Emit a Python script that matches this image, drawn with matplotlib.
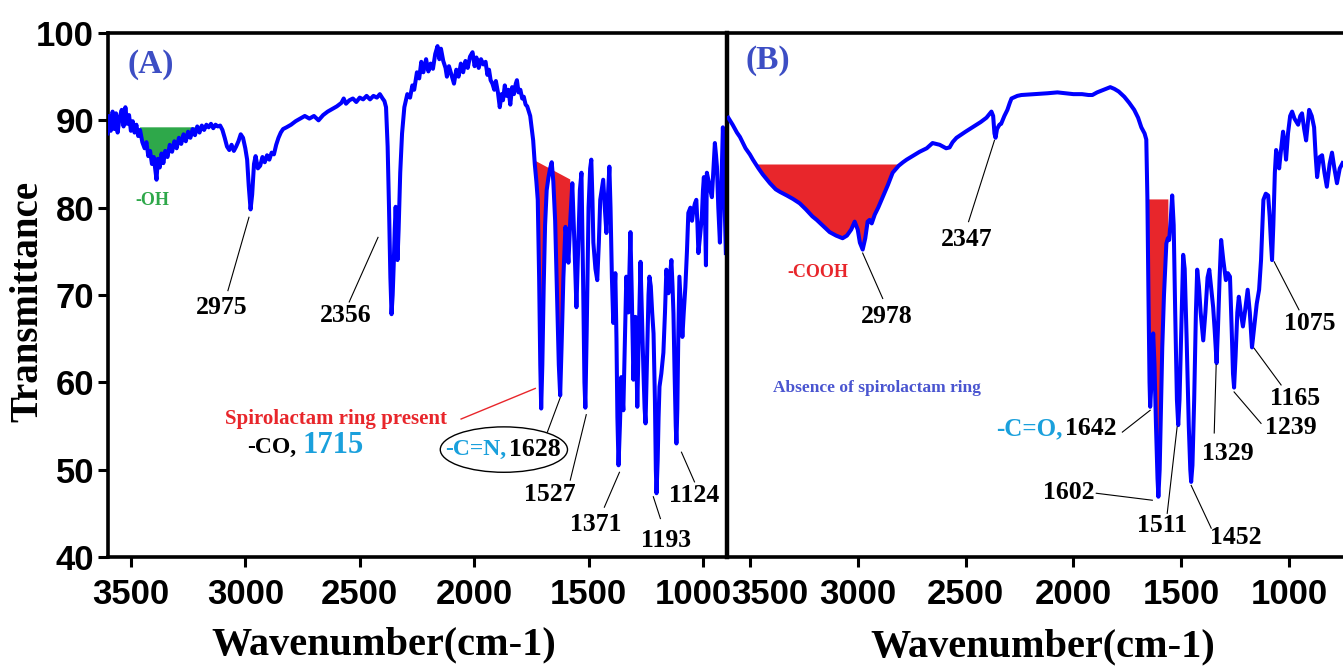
import numpy as np
import matplotlib
matplotlib.use('Agg')
from matplotlib import pyplot as plt
from matplotlib.patches import Ellipse
import matplotlib.transforms as mtransforms

# spectrum A (with spirolactam ring)
wn_a = [3602, 3595, 3588, 3580, 3572, 3565, 3558, 3550, 3540, 3532, 3524, 3516, 3508, 3500,
        3492, 3484, 3476, 3468, 3460, 3450, 3440, 3432, 3424, 3416, 3408, 3400, 3394, 3388,
        3382, 3374, 3366, 3358, 3350, 3340, 3330, 3320, 3310, 3300, 3290, 3280, 3270, 3260,
        3250, 3240, 3230, 3220, 3210, 3200, 3190, 3180, 3170, 3160, 3150, 3140, 3130, 3120,
        3110, 3100, 3090, 3080, 3070, 3060, 3050, 3040, 3030, 3020, 3010, 3000, 2992, 2985,
        2977, 2970, 2962, 2955, 2945, 2935, 2925, 2915, 2905, 2895, 2885, 2875, 2865, 2855,
        2845, 2835, 2820, 2800, 2780, 2760, 2740, 2720, 2700, 2680, 2660, 2640, 2620, 2600,
        2580, 2570, 2560, 2545, 2530, 2515, 2500, 2485, 2470, 2455, 2440, 2425, 2412, 2400,
        2392, 2385, 2378, 2372, 2366, 2361, 2356, 2351, 2347, 2343, 2339, 2335, 2330, 2323,
        2315, 2305, 2292, 2280, 2270, 2262, 2250, 2240, 2231, 2222, 2210, 2200, 2190, 2180,
        2170, 2160, 2152, 2145, 2135, 2125, 2119, 2110, 2100, 2088, 2078, 2068, 2058, 2048,
        2038, 2028, 2018, 2007, 1998, 1990, 1980, 1970, 1960, 1950, 1942, 1935, 1928, 1920,
        1912, 1905, 1896, 1888, 1880, 1874, 1866, 1858, 1850, 1842, 1834, 1826, 1818, 1813,
        1806, 1798, 1790, 1783, 1775, 1768, 1762, 1755, 1748, 1742, 1735, 1728, 1722, 1716,
        1711, 1707, 1702, 1696, 1690, 1683, 1675, 1668, 1661, 1654, 1646, 1638, 1630, 1624,
        1618, 1610, 1601, 1594, 1588, 1580, 1571, 1562, 1553, 1544, 1538, 1531, 1524, 1518,
        1514, 1508, 1500, 1493, 1488, 1483, 1479, 1470, 1462, 1455, 1449, 1436, 1429, 1422,
        1415, 1409, 1404, 1398, 1392, 1387, 1383, 1378, 1374, 1369, 1363, 1357, 1352, 1348,
        1342, 1335, 1330, 1326, 1321, 1317, 1311, 1304, 1299, 1295, 1291, 1287, 1280, 1273,
        1266, 1260, 1255, 1251, 1244, 1238, 1234, 1228, 1222, 1216, 1210, 1206, 1203, 1198,
        1194, 1190, 1182, 1173, 1166, 1160, 1155, 1151, 1145, 1138, 1133, 1129, 1124, 1119,
        1116, 1112, 1108, 1103, 1097, 1090, 1084, 1077, 1070, 1064, 1055, 1048, 1042, 1035,
        1029, 1024, 1020, 1012, 1005, 1000, 996, 991, 987, 985, 983, 975, 968, 961, 955, 948,
        943, 939, 933, 926, 920, 913, 908, 904, 900]
t_a = [88.5, 90.5, 88.8, 91.0, 89.0, 90.8, 88.6, 90.2, 91.2, 89.3, 91.5, 89.6, 90.6, 88.8,
       89.9, 88.6, 89.5, 88.2, 88.9, 87.5, 86.8, 87.5, 85.9, 86.5, 85.0, 85.8, 84.5, 83.2,
       85.6, 84.6, 86.2, 85.1, 86.5, 85.8, 87.2, 86.4, 87.6, 86.8, 88.0, 87.3, 88.4, 87.6,
       88.7, 88.0, 89.0, 88.3, 89.3, 88.6, 89.4, 88.9, 89.5, 89.2, 89.6, 89.1, 89.5, 89.3,
       89.4, 88.9, 88.0, 87.0, 86.6, 87.2, 86.5, 87.0, 87.6, 88.4, 88.0, 86.8, 85.5, 82.5,
       79.8, 81.5, 85.0, 85.9, 84.5, 84.8, 85.8, 85.2, 86.0, 85.5, 86.3, 86.1, 87.2, 88.0,
       88.6, 89.0, 89.2, 89.5, 89.9, 90.2, 90.5, 90.2, 90.5, 90.0, 90.6, 91.0, 91.3, 91.6,
       92.0, 92.5, 91.9, 92.3, 92.5, 92.1, 92.6, 92.4, 92.8, 92.4, 92.8, 92.6, 93.0, 92.5,
       92.2, 91.5, 87.0, 80.0, 72.0, 67.8, 70.0, 73.8, 77.5, 80.1, 77.0, 74.0, 77.5, 84.0,
       88.5, 91.5, 93.0, 92.6, 94.0, 93.5, 95.5, 94.8, 96.7, 95.5, 97.0, 95.6, 96.5, 95.9,
       97.6, 98.5, 97.0, 98.2, 96.8, 96.0, 95.0, 96.2, 95.3, 94.2, 95.8, 95.0, 96.5, 95.5,
       96.8, 96.0, 97.3, 97.8, 96.2, 97.2, 96.0, 97.0, 96.4, 96.7, 95.2, 95.8, 94.6, 94.2,
       93.5, 94.5, 93.2, 91.5, 93.0, 92.3, 94.0, 92.8, 93.5, 91.8, 93.8, 93.0, 94.2, 94.6,
       93.2, 93.5, 92.5, 92.7, 91.8, 91.6, 91.1, 90.5, 89.0, 87.7, 85.0, 83.0, 80.9, 72.0,
       62.0, 57.0, 62.0, 71.0, 78.0, 82.0, 83.5, 84.5, 85.2, 83.0, 78.5, 70.0, 62.0, 58.5,
       64.0, 72.0, 77.8, 76.0, 73.7, 78.5, 82.8, 76.0, 68.6, 76.5, 82.0, 84.0, 72.0, 60.0,
       57.1, 66.0, 80.0, 84.5, 85.5, 81.0, 76.0, 73.0, 71.7, 76.0, 80.9, 83.2, 80.0, 77.1,
       81.5, 84.7, 80.0, 72.0, 66.8, 70.0, 72.5, 65.0, 56.0, 50.5, 55.0, 60.6, 58.5, 56.8,
       64.0, 72.1, 70.0, 68.0, 73.0, 77.2, 70.0, 60.3, 64.0, 67.5, 63.0, 57.2, 66.0, 73.8,
       67.0, 61.1, 57.0, 55.3, 63.0, 70.0, 72.1, 71.0, 68.0, 65.6, 58.0, 50.0, 47.3, 51.0,
       56.0, 59.5, 61.0, 63.4, 68.0, 72.9, 71.5, 70.2, 72.0, 74.0, 71.0, 67.9, 61.0, 55.0,
       53.0, 57.0, 65.0, 72.1, 69.0, 65.2, 68.0, 70.9, 75.0, 79.4, 80.0, 78.5, 79.7, 80.5,
       80.9, 78.0, 74.8, 77.0, 78.9, 82.0, 83.5, 79.0, 73.4, 79.0, 84.0, 83.0, 82.0, 81.2,
       84.0, 87.4, 86.0, 84.7, 80.0, 76.0, 82.0, 89.2, 85.0, 79.0, 74.8]

# spectrum B (without spirolactam ring)
wn_b = [3600, 3580, 3560, 3546, 3520, 3500, 3486, 3460, 3440, 3420, 3407, 3380, 3360, 3329,
        3300, 3269, 3240, 3210, 3190, 3160, 3130, 3100, 3070, 3050, 3030, 3014, 3000, 2990,
        2977, 2965, 2954, 2945, 2935, 2921, 2905, 2884, 2860, 2838, 2810, 2790, 2773, 2740,
        2713, 2680, 2653, 2620, 2590, 2574, 2560, 2542, 2500, 2468, 2430, 2403, 2380, 2372,
        2366, 2361, 2354, 2343, 2335, 2320, 2306, 2295, 2287, 2260, 2241, 2180, 2120, 2074,
        2000, 1960, 1930, 1912, 1890, 1860, 1840, 1829, 1810, 1790, 1764, 1741, 1718, 1700,
        1685, 1670, 1662, 1657, 1652, 1647, 1644, 1640, 1636, 1630, 1624, 1617, 1610, 1606,
        1600, 1594, 1588, 1580, 1569, 1562, 1556, 1549, 1542, 1535, 1528, 1520, 1514, 1508,
        1500, 1491, 1484, 1475, 1465, 1458, 1454, 1448, 1440, 1432, 1426, 1418, 1410, 1398,
        1388, 1378, 1370, 1362, 1352, 1345, 1336, 1330, 1322, 1315, 1305, 1293, 1284, 1274,
        1266, 1260, 1255, 1248, 1240, 1233, 1224, 1214, 1205, 1192, 1182, 1172, 1163, 1150,
        1139, 1130, 1119, 1108, 1097, 1090, 1084, 1079, 1073, 1066, 1060, 1053, 1046, 1040,
        1028, 1021, 1014, 1005, 995, 986, 975, 958, 948, 940, 930, 921, 914, 907, 895, 884,
        877, 870, 858, 847, 836, 825, 812, 801, 790, 778, 765, 752]
t_b = [90.3, 89.5, 88.6, 88.1, 86.8, 86.1, 85.5, 84.5, 83.8, 83.2, 82.8, 82.1, 81.8, 81.4,
       81.0, 80.5, 79.8, 79.0, 78.6, 77.9, 77.2, 76.8, 76.5, 76.8, 77.5, 78.4, 77.5, 76.0,
       75.2, 76.5, 78.4, 78.6, 78.2, 79.2, 80.0, 81.2, 82.6, 84.0, 84.8, 85.2, 85.5, 86.0,
       86.4, 86.8, 87.4, 87.2, 86.8, 86.9, 87.5, 88.0, 88.7, 89.2, 89.8, 90.3, 91.0, 90.5,
       88.5, 88.0, 89.0, 89.5, 89.6, 90.5, 91.2, 92.0, 92.5, 92.8, 92.9, 93.0, 93.1, 93.2,
       93.0, 93.0, 92.9, 92.9, 93.2, 93.5, 93.7, 93.8, 93.6, 93.3, 92.7, 92.0, 91.2, 90.3,
       89.2, 88.5, 87.8, 81.2, 70.0, 60.0, 57.2, 59.0, 63.0, 65.6, 62.0, 55.0, 49.0, 46.9,
       50.0, 57.0, 64.0, 70.0, 75.9, 76.5, 76.3, 78.5, 81.4, 78.0, 68.0, 58.0, 55.1, 58.0,
       66.0, 74.6, 73.0, 65.0, 55.0, 50.0, 48.6, 50.5, 58.0, 68.0, 72.9, 71.0, 68.0, 64.8,
       68.0, 72.0, 72.9, 71.0, 68.6, 66.0, 62.2, 66.0, 72.0, 76.3, 74.0, 71.7, 72.5, 72.1,
       66.0, 61.0, 59.4, 63.0, 68.0, 69.8, 68.0, 66.4, 68.0, 70.6, 68.0, 64.0, 66.0, 69.0,
       70.6, 74.0, 80.9, 81.6, 81.4, 79.0, 76.0, 74.0, 78.0, 84.0, 86.6, 85.8, 84.5, 86.0,
       88.7, 87.5, 85.5, 88.5, 90.5, 91.0, 90.2, 89.5, 90.5, 90.8, 89.0, 87.7, 89.5, 91.2,
       90.5, 89.2, 86.0, 83.5, 85.8, 86.0, 84.0, 82.4, 85.0, 86.3, 84.5, 82.8, 84.5, 85.1]

x_ticks = [3500, 3000, 2500, 2000, 1500, 1000]
y_ticks = [40, 50, 60, 70, 80, 90, 100]

# (text, text x, text y, line start, line end)
peaks_a = [('2975', 3102, 68.6, (3076, 70.5), (2984, 78.9)),
           ('2356', 2560, 67.6, (2546, 69.2), (2420, 76.6)),
           ('1527', 1671, 47.1, (1580, 48.8), (1510, 56.3)),
           ('1371', 1470, 43.7, (1431, 45.7), (1365, 49.7)),
           ('1193', 1160, 41.9, (1186, 44.4), (1217, 46.9)),
           ('1124', 1037, 47.0, (1037, 48.6), (1094, 52.0))]
peaks_b = [('2978', 2866, 67.5, (2884, 69.6), (2977, 74.8)),
           ('2347', 2495, 76.3, (2486, 78.4), (2366, 87.7)),
           ('1075', 903, 66.7, (954, 68.3), (1069, 73.8)),
           ('1165', 973, 58.2, (1037, 59.7), (1162, 63.9)),
           ('1239', 991, 54.8, (1130, 55.3), (1255, 58.9)),
           ('1329', 1282, 51.9, (1347, 54.2), (1338, 62.0)),
           ('1452', 1245, 42.2, (1361, 43.3), (1454, 48.2)),
           ('1511', 1588, 43.6, (1565, 45.0), (1519, 54.9)),
           ('1602', 2019, 47.4, (1894, 47.3), (1634, 46.5)),
           ('1642', 1917, 54.7, (1773, 54.3), (1644, 56.8))]

BLUE = '#0000ff'
RED = '#e8262b'
CYAN = '#1aa0dc'
GREEN = '#2ea84a'
LABEL_BLUE = '#3d4ec4'

serif = 'Liberation Serif'
sans = 'Liberation Sans'

fig = plt.figure(figsize=(13.43, 6.67), dpi=100)
ax1 = fig.add_axes([108 / 1343, 110 / 667, 619 / 1343, 524 / 667])
ax2 = fig.add_axes([727 / 1343, 110 / 667, 616 / 1343, 524 / 667])

wa = np.array(wn_a, float)
ta = np.array(t_a, float)
wb = np.array(wn_b, float)
tb = np.array(t_b, float)

ax1.plot(wa, ta, color=BLUE, lw=2.9, zorder=3)
ax2.plot(wb, tb, color=BLUE, lw=2.9, zorder=3)

# shaded bands
m = (wa <= 3463) & (wa >= 3168)
ax1.fill_between(wa[m], ta[m], 89.2, where=ta[m] < 89.2, color=GREEN, lw=0, interpolate=True, zorder=2)
m = (wa <= 1735) & (wa >= 1578)
top = np.interp(wa[m], [1578, 1735], [83.2, 85.4])
ax1.fill_between(wa[m], ta[m], top, where=ta[m] < top, color=RED, lw=0, interpolate=True, zorder=2)
m = (wb <= 3486) & (wb >= 2805)
ax2.fill_between(wb[m], tb[m], 85.0, where=tb[m] < 85.0, color=RED, lw=0, interpolate=True, zorder=2)
m = (wb <= 1657) & (wb >= 1560)
ax2.fill_between(wb[m], tb[m], 81.0, where=tb[m] < 81.0, color=RED, lw=0, interpolate=True, zorder=2)

for ax, xl in ((ax1, (3600, 895)), (ax2, (3606, 750))):
    ax.set_xlim(*xl)
    ax.set_ylim(40, 100)
    ax.set_xticks(x_ticks)
    ax.spines['right'].set_visible(False)
    for s in ('left', 'top', 'bottom'):
        ax.spines[s].set_linewidth(2.6)
    ax.tick_params(axis='x', direction='out', length=7, width=2.2, pad=8)
    for lab in ax.get_xticklabels():
        lab.set_fontfamily(sans)
        lab.set_fontweight('bold')
        lab.set_fontsize(25)

ax1.set_yticks(y_ticks)
ax1.tick_params(axis='y', direction='out', length=7, width=2.2, pad=3)
for lab in ax1.get_yticklabels():
    lab.set_fontfamily(sans)
    lab.set_fontweight('bold')
    lab.set_fontsize(25)
ax2.set_yticks([])
ax2.spines['left'].set_linewidth(3.2)

# crowded labels at the panel border are nudged apart
def nudge(lab, dx):
    off = mtransforms.ScaledTranslation(dx / 100, 0, fig.dpi_scale_trans)
    lab.set_transform(lab.get_transform() + off)

nudge(ax2.get_xticklabels()[0], 20)
nudge(ax1.get_xticklabels()[-1], -10)

num = dict(fontfamily=serif, fontweight='bold', fontsize=18.5, color='black', ha='center', va='center')
for ax, peaks in ((ax1, peaks_a), (ax2, peaks_b)):
    for txt, tx, ty, p0, p1 in peaks:
        ax.text(tx, ty, txt, zorder=5, **num)
        ax.plot([p0[0], p1[0]], [p0[1], p1[1]], color='black', lw=0.8, zorder=4)

ax1.text(3412, 96.4, '(A)', fontfamily=serif, fontweight='bold', fontsize=24, color=LABEL_BLUE, ha='center', va='center')
ax2.text(3417, 96.8, '(B)', fontfamily=serif, fontweight='bold', fontsize=24, color=LABEL_BLUE, ha='center', va='center')

ax1.text(3408, 80.8, '-OH', fontfamily=serif, fontweight='bold', fontsize=13, color=GREEN, ha='center', va='center')
ax2.text(3185, 72.6, '-COOH', fontfamily=serif, fontweight='bold', fontsize=13, color=RED, ha='center', va='center')

ax1.text(2603, 55.8, 'Spirolactam ring present', fontfamily=serif, fontweight='bold', fontsize=15,
         color=RED, ha='center', va='center')
ax1.plot([2057, 1733], [55.8, 59.3], color=RED, lw=1.0)

ax1.text(2778, 52.6, '-CO,', fontfamily=serif, fontweight='bold', fontsize=17, color='black', ha='right', va='center')
ax1.text(2748, 52.8, '1715', fontfamily=serif, fontweight='bold', fontsize=22, color=CYAN, ha='left', va='center')

ax1.text(1858, 52.3, '-C=N,', fontfamily=serif, fontweight='bold', fontsize=17, color=CYAN, ha='right', va='center')
ax1.text(1848, 52.3, '1628', fontfamily=serif, fontweight='bold', fontsize=18.5, color='black', ha='left', va='center')
ax1.add_patch(Ellipse((1870, 52.3), 556, 5.2, fill=False, edgecolor='black', lw=1.0, zorder=4))
ax1.plot([1680, 1623], [54.3, 58.3], color='black', lw=0.8)

ax2.text(2050, 54.7, '-C=O,', fontfamily=serif, fontweight='bold', fontsize=18, color=CYAN, ha='right', va='center')
ax2.text(2912, 59.3, 'Absence of spirolactam ring', fontfamily=serif, fontweight='bold', fontsize=12.5,
         color='#4a55d0', ha='center', va='center')

fig.text(28 / 1343, 1 - 301 / 667, 'Transmittance', rotation=90, fontfamily=serif, fontweight='bold',
         fontsize=28, ha='center', va='center')
fig.text(384 / 1343, 1 - 645 / 667, 'Wavenumber(cm-1)', fontfamily=serif, fontweight='bold',
         fontsize=29, ha='center', va='center')
fig.text(1043 / 1343, 1 - 647 / 667, 'Wavenumber(cm-1)', fontfamily=serif, fontweight='bold',
         fontsize=29, ha='center', va='center')

fig.savefig('out.png', dpi=100)
